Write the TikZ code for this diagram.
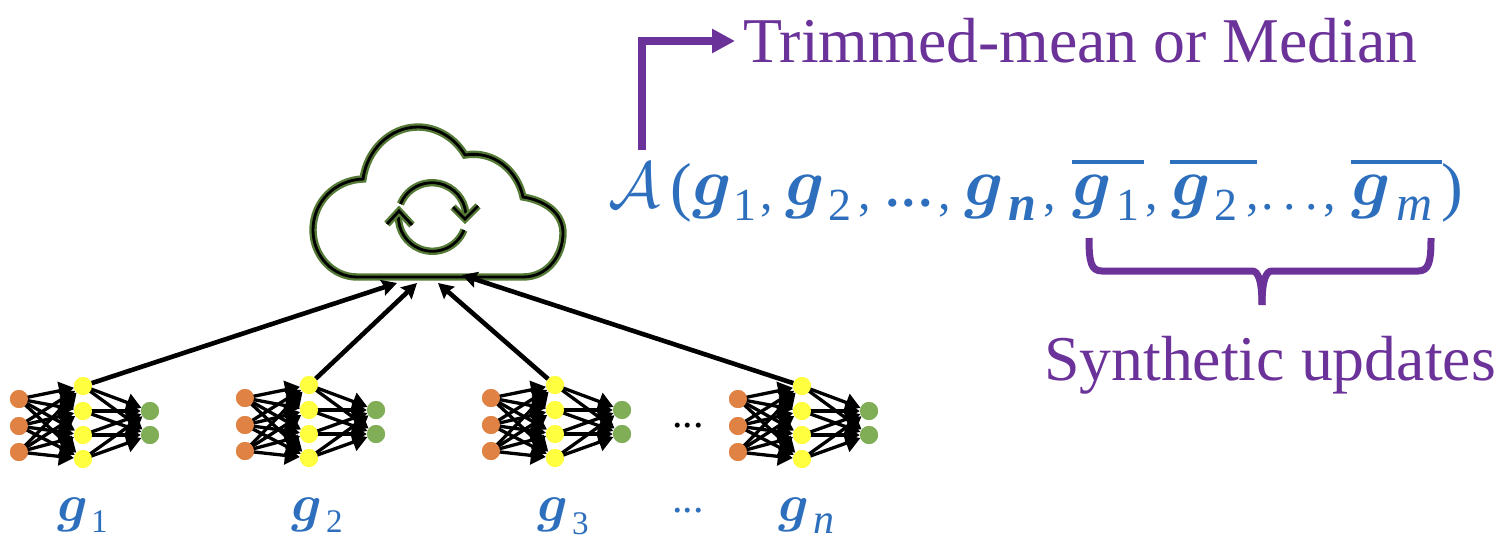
\RequirePackage{fix-cm}
\documentclass[tikz,border=0pt]{standalone}
\usepackage{fontspec}
\usepackage{bm}
\setmainfont{Liberation Serif}
\usetikzlibrary{arrows.meta}
\definecolor{eqblue}{HTML}{2E6FBD}
\definecolor{lblpurple}{HTML}{6B3299}
\definecolor{cloudgreen}{HTML}{557A36}
\definecolor{netorange}{HTML}{E08243}
\definecolor{netyellow}{HTML}{FFFF3F}
\definecolor{netgreen}{HTML}{7FAE57}
\tikzset{
 cloudline/.style={draw=black,line width=2.8pt,line join=miter,preaction={draw=cloudgreen,line width=7.4pt}},
 orangedot/.style={circle,fill=netorange,minimum size=18pt,inner sep=0pt},
 yellowdot/.style={circle,fill=netyellow,minimum size=18pt,inner sep=0pt},
 greendot/.style={circle,fill=netgreen,minimum size=18pt,inner sep=0pt},
 netedge/.style={draw=black,line width=3.3pt,-{Triangle[length=15pt,width=18pt]}},
 uplink/.style={draw=black,line width=4.6pt,-{Stealth[length=15pt,width=16pt,inset=2pt]}},
 base/.style={anchor=base west,text=eqblue,inner sep=0pt,outer sep=0pt},
 eq/.style={base,font=\fontsize{68}{68}\selectfont},
 eqa/.style={base,font=\fontsize{65}{65}\selectfont},
 eqp/.style={base,font=\fontsize{65}{65}\selectfont},
 eqc/.style={base,font=\fontsize{50}{50}\selectfont},
 eqsub/.style={base,font=\fontsize{46}{46}\selectfont},
 eqsubl/.style={base,font=\fontsize{50}{50}\selectfont},
 lower/.style={base,font=\fontsize{53}{53}\selectfont},
 lowersub/.style={base,font=\fontsize{33}{33}\selectfont},
 lowersubn/.style={base,font=\fontsize{42}{42}\selectfont},
 dotsrow/.style={anchor=base,inner sep=0pt,outer sep=0pt,font=\fontsize{42}{42}\selectfont},
 bigtxt/.style={anchor=base west,text=lblpurple,inner sep=0pt,outer sep=0pt,font=\fontsize{63.8}{64}\selectfont},
 purpleline/.style={draw=lblpurple,line width=7pt},
 elbow/.style={draw=lblpurple,line width=7.5pt,-{Triangle[length=23pt,width=23pt]}},
 overbar/.style={draw=eqblue,line width=3.6pt},
}
\newcommand{\gb}{$\bm{g}$}
\begin{document}
\begin{tikzpicture}[x=1pt,y=-1pt]
\useasboundingbox (0,0) rectangle (1504,554);
% cloud
\coordinate (cb) at (357,277);
\coordinate (ce) at (523,277);
\draw[cloudline] (cb) -- (ce)
  .. controls (548,277) and (563,255) .. (563,233)
  .. controls (563,215) and (548,201) .. (523,197)
  .. controls (518,172) and (495,150) .. (465,155)
  .. controls (455,138) and (437,127) .. (418,127)
  .. controls (390,127) and (367,150) .. (363,179)
  .. controls (335,180) and (313,202) .. (313,230)
  .. controls (313,256) and (333,277) .. (357,277) -- cycle;
\draw[cloudline] (400.5,204) arc[start angle=-158,end angle=3,radius=34];
\draw[cloudline] (478,206) -- (465,219) -- (453,207);
\draw[cloudline] (464,230) arc[start angle=22,end angle=182,radius=34];
\draw[cloudline] (387,224) -- (399,211) -- (412,225);
% nets
\foreach \k/\dx/\dy in {1/0/0,2/226/-1,3/472/-1,4/719/0}{
  \begin{scope}[shift={(\dx,\dy)}]
  \foreach \i/\yy in {1/399,2/426,3/452} \node[orangedot] (o\k-\i) at (19,\yy) {};
  \foreach \i/\yy in {1/386,2/411,3/435,4/459} \node[yellowdot] (y\k-\i) at (83,\yy) {};
  \foreach \i/\yy in {1/411,2/435} \node[greendot] (g\k-\i) at (150,\yy) {};
  \foreach \i in {1,2,3} \foreach \j in {1,2,3,4} \draw[netedge] (o\k-\i.center) -- (y\k-\j);
  \foreach \i in {1,2,3,4} \foreach \j in {1,2} \draw[netedge] (y\k-\i.center) -- (g\k-\j);
  \foreach \i in {1,2,3} \node[orangedot] at (o\k-\i) {};
  \foreach \i in {1,2,3,4} \node[yellowdot] at (y\k-\i) {};
  \foreach \i in {1,2} \node[greendot] at (g\k-\i) {};
  \end{scope}
}
% up links
\coordinate (t1) at (397,283);
\coordinate (t2) at (417,283);
\coordinate (t3) at (438,283);
\coordinate (t4) at (462,275);
\draw[uplink] (y1-1) -- (t1);
\draw[uplink] (y2-1) -- (t2);
\draw[uplink] (y3-1) -- (t3);
\draw[uplink] (y4-1) -- (t4);
% lower labels
\node[lower] (l1) at (57,521) {\gb};
\node[lowersub] (l1s) at (91,532) {1};
\node[lower] (l2) at (291,521) {\gb};
\node[lowersub] (l2s) at (326,532) {2};
\node[lower] (l3) at (537,521) {\gb};
\node[lowersub] (l3s) at (572,534) {3};
\node[lower] (l4) at (778,521) {\gb};
\node[lowersubn] (l4s) at (813,533) {\textit{n}};
\node[dotsrow] (dm) at (688,427) {...};
\node[dotsrow,text=eqblue] (dl) at (688,512) {...};
% formula
\node[eqa] (A) at (608,207) {$\mathcal{A}$};
\node[eqp] (par) at (670,208) {(};
\node[eq] (e1) at (692,205) {\gb};
\node[eqsub] (e1s) at (733.5,220) {1};
\node[eqc] at (760,209) {,};
\node[eq] (e2) at (785,205) {\gb};
\node[eqsub] (e2s) at (828.5,220) {2};
\node[eqc] at (858,209) {,};
\node[eqc] at (886,206) {\bfseries .\hspace{4pt}.\hspace{4pt}.};
\node[eqc] at (938,209) {,};
\node[eq] (e3) at (964,205) {\gb};
\node[eqsubl] (e3s) at (1008,220) {\textit{\textbf{n}}};
\node[eqc] at (1043,209) {,};
\node[eq] (b1) at (1072,205) {\gb};
\node[eqsub] (b1s) at (1116.5,220) {1};
\node[eqc] at (1145,209) {,};
\node[eq] (b2) at (1171,205) {\gb};
\node[eqsub] (b2s) at (1214.5,220) {2};
\node[eqc] at (1246,209) {,};
\node[eqc] at (1261,209) {.\hspace{9.5pt}.\hspace{9.5pt}.};
\node[eqc] at (1323,209) {,};
\node[eq] (b3) at (1351,205) {\gb};
\node[eqsubl] (b3s) at (1396,220) {\textit{m}};
\node[eqp] (parr) at (1441,208) {)};
\coordinate (o1a) at (1072,162); \coordinate (o1b) at (1144,162);
\coordinate (o2a) at (1170,162); \coordinate (o2b) at (1257,162);
\coordinate (o3a) at (1351,162); \coordinate (o3b) at (1442,162);
\draw[overbar] (o1a) -- (o1b);
\draw[overbar] (o2a) -- (o2b);
\draw[overbar] (o3a) -- (o3b);
% purple annotations
\node[bigtxt] (tm) at (743,62) {Trimmed-mean or Median};
\node[bigtxt] (su) at (1044,380) {Synthetic updates};
\coordinate (el) at (642,150);
\draw[elbow] (el) |- ([xshift=-8pt,yshift=21pt]tm.base west);
\coordinate (bl) at (1089,238);
\coordinate (br) at (1431,238);
\coordinate (bt) at (1262,305);
\draw[purpleline] (bl) .. controls (1089,262) and (1091,271) .. (1102,271) -- (1252,271) .. controls (1258,271) and (1262,280) .. (bt);
\draw[purpleline] (br) .. controls (1431,262) and (1429,271) .. (1418,271) -- (1272,271) .. controls (1266,271) and (1262,280) .. (bt);
\end{tikzpicture}
\end{document}
